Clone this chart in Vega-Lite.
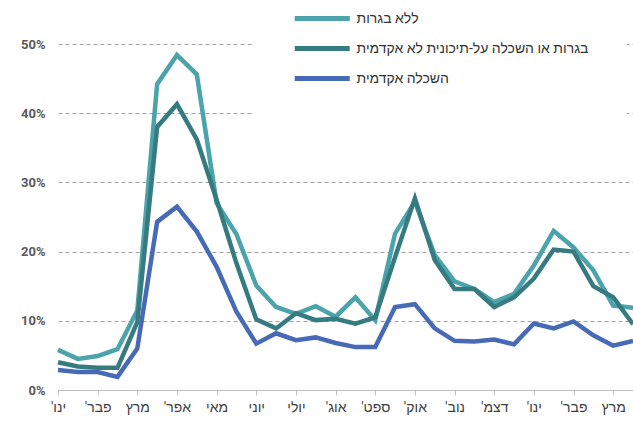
{
  "$schema": "https://vega.github.io/schema/vega-lite/v6.json",
  "width": 575,
  "height": 346,
  "autosize": {"type": "none"},
  "padding": {"left": 58, "top": 44, "right": 0, "bottom": 32},
  "background": "white",
  "config": {"view": {"stroke": null}, "font": "Roboto, 'Liberation Sans', sans-serif"},
  "data": {"values": [
    {"t":0,"series":"ללא בגרות","v":5.8},{"t":1,"series":"ללא בגרות","v":4.5},{"t":2,"series":"ללא בגרות","v":4.9},{"t":3,"series":"ללא בגרות","v":5.9},{"t":4,"series":"ללא בגרות","v":11.5},{"t":5,"series":"ללא בגרות","v":44.2},{"t":6,"series":"ללא בגרות","v":48.4},{"t":7,"series":"ללא בגרות","v":45.6},{"t":8,"series":"ללא בגרות","v":27.0},{"t":9,"series":"ללא בגרות","v":22.5},{"t":10,"series":"ללא בגרות","v":15.1},{"t":11,"series":"ללא בגרות","v":12.0},{"t":12,"series":"ללא בגרות","v":11.0},{"t":13,"series":"ללא בגרות","v":12.1},{"t":14,"series":"ללא בגרות","v":10.6},{"t":15,"series":"ללא בגרות","v":13.4},{"t":16,"series":"ללא בגרות","v":10.1},{"t":17,"series":"ללא בגרות","v":22.6},{"t":18,"series":"ללא בגרות","v":27.2},{"t":19,"series":"ללא בגרות","v":19.5},{"t":20,"series":"ללא בגרות","v":15.7},{"t":21,"series":"ללא בגרות","v":14.6},{"t":22,"series":"ללא בגרות","v":12.7},{"t":23,"series":"ללא בגרות","v":13.9},{"t":24,"series":"ללא בגרות","v":18.0},{"t":25,"series":"ללא בגרות","v":23.0},{"t":26,"series":"ללא בגרות","v":20.6},{"t":27,"series":"ללא בגרות","v":17.3},{"t":28,"series":"ללא בגרות","v":12.2},{"t":29,"series":"ללא בגרות","v":11.9},
    {"t":0,"series":"בגרות או השכלה על-תיכונית לא אקדמית","v":4.0},{"t":1,"series":"בגרות או השכלה על-תיכונית לא אקדמית","v":3.4},{"t":2,"series":"בגרות או השכלה על-תיכונית לא אקדמית","v":3.2},{"t":3,"series":"בגרות או השכלה על-תיכונית לא אקדמית","v":3.2},{"t":4,"series":"בגרות או השכלה על-תיכונית לא אקדמית","v":9.8},{"t":5,"series":"בגרות או השכלה על-תיכונית לא אקדמית","v":38.0},{"t":6,"series":"בגרות או השכלה על-תיכונית לא אקדמית","v":41.3},{"t":7,"series":"בגרות או השכלה על-תיכונית לא אקדמית","v":36.2},{"t":8,"series":"בגרות או השכלה על-תיכונית לא אקדמית","v":27.5},{"t":9,"series":"בגרות או השכלה על-תיכונית לא אקדמית","v":18.3},{"t":10,"series":"בגרות או השכלה על-תיכונית לא אקדמית","v":10.2},{"t":11,"series":"בגרות או השכלה על-תיכונית לא אקדמית","v":8.9},{"t":12,"series":"בגרות או השכלה על-תיכונית לא אקדמית","v":11.1},{"t":13,"series":"בגרות או השכלה על-תיכונית לא אקדמית","v":10.1},{"t":14,"series":"בגרות או השכלה על-תיכונית לא אקדמית","v":10.3},{"t":15,"series":"בגרות או השכלה על-תיכונית לא אקדמית","v":9.6},{"t":16,"series":"בגרות או השכלה על-תיכונית לא אקדמית","v":10.5},{"t":17,"series":"בגרות או השכלה על-תיכונית לא אקדמית","v":19.2},{"t":18,"series":"בגרות או השכלה על-תיכונית לא אקדמית","v":27.7},{"t":19,"series":"בגרות או השכלה על-תיכונית לא אקדמית","v":18.8},{"t":20,"series":"בגרות או השכלה על-תיכונית לא אקדמית","v":14.6},{"t":21,"series":"בגרות או השכלה על-תיכונית לא אקדמית","v":14.6},{"t":22,"series":"בגרות או השכלה על-תיכונית לא אקדמית","v":12.0},{"t":23,"series":"בגרות או השכלה על-תיכונית לא אקדמית","v":13.4},{"t":24,"series":"בגרות או השכלה על-תיכונית לא אקדמית","v":16.1},{"t":25,"series":"בגרות או השכלה על-תיכונית לא אקדמית","v":20.3},{"t":26,"series":"בגרות או השכלה על-תיכונית לא אקדמית","v":20.0},{"t":27,"series":"בגרות או השכלה על-תיכונית לא אקדמית","v":15.0},{"t":28,"series":"בגרות או השכלה על-תיכונית לא אקדמית","v":13.4},{"t":29,"series":"בגרות או השכלה על-תיכונית לא אקדמית","v":9.5},
    {"t":0,"series":"השכלה אקדמית","v":2.9},{"t":1,"series":"השכלה אקדמית","v":2.6},{"t":2,"series":"השכלה אקדמית","v":2.6},{"t":3,"series":"השכלה אקדמית","v":1.9},{"t":4,"series":"השכלה אקדמית","v":6.0},{"t":5,"series":"השכלה אקדמית","v":24.3},{"t":6,"series":"השכלה אקדמית","v":26.5},{"t":7,"series":"השכלה אקדמית","v":22.9},{"t":8,"series":"השכלה אקדמית","v":17.8},{"t":9,"series":"השכלה אקדמית","v":11.3},{"t":10,"series":"השכלה אקדמית","v":6.7},{"t":11,"series":"השכלה אקדמית","v":8.2},{"t":12,"series":"השכלה אקדמית","v":7.2},{"t":13,"series":"השכלה אקדמית","v":7.6},{"t":14,"series":"השכלה אקדמית","v":6.8},{"t":15,"series":"השכלה אקדמית","v":6.2},{"t":16,"series":"השכלה אקדמית","v":6.2},{"t":17,"series":"השכלה אקדמית","v":12.0},{"t":18,"series":"השכלה אקדמית","v":12.4},{"t":19,"series":"השכלה אקדמית","v":8.9},{"t":20,"series":"השכלה אקדמית","v":7.1},{"t":21,"series":"השכלה אקדמית","v":7.0},{"t":22,"series":"השכלה אקדמית","v":7.3},{"t":23,"series":"השכלה אקדמית","v":6.6},{"t":24,"series":"השכלה אקדמית","v":9.6},{"t":25,"series":"השכלה אקדמית","v":8.9},{"t":26,"series":"השכלה אקדמית","v":9.9},{"t":27,"series":"השכלה אקדמית","v":7.9},{"t":28,"series":"השכלה אקדמית","v":6.4},{"t":29,"series":"השכלה אקדמית","v":7.1}
  ]},
  "mark": {"type": "line", "strokeWidth": 4.5, "strokeJoin": "miter"},
  "encoding": {
    "x": {
      "field": "t", "type": "quantitative",
      "scale": {"domain": [0, 29], "nice": false, "zero": false},
      "axis": {
        "values": [0, 2, 4, 6, 8, 10, 12, 14, 16, 18, 20, 22, 24, 26, 28],
        "labelExpr": "[\"ינו'\u200f\",\"פבר'\u200f\",\"מרץ\",\"אפר'\u200f\",\"מאי\",\"יוני\",\"יולי\",\"אוג'\u200f\",\"ספט'\u200f\",\"אוק'\u200f\",\"נוב'\u200f\",\"דצמ'\u200f\",\"ינו'\u200f\",\"פבר'\u200f\",\"מרץ\"][datum.value/2]",
        "title": null, "grid": false,
        "domainColor": "#bfbfbf", "tickColor": "#bfbfbf", "tickSize": 5,
        "labelFontSize": 14, "labelColor": "#404040", "labelPadding": 5,
        "labelFlush": false, "labelOverlap": false
      }
    },
    "y": {
      "field": "v", "type": "quantitative",
      "scale": {"domain": [0, 50], "nice": false},
      "axis": {
        "values": [0, 10, 20, 30, 40, 50],
        "labelExpr": "datum.value + '%'",
        "title": null, "domain": false, "ticks": false,
        "gridDash": [4, 3], "gridColor": "#a0a0a0",
        "labelFontSize": 13, "labelColor": "#595959", "labelPadding": 13, "labelFontWeight": "bold"
      }
    },
    "color": {
      "field": "series", "type": "nominal",
      "scale": {
        "domain": ["ללא בגרות", "בגרות או השכלה על-תיכונית לא אקדמית", "השכלה אקדמית"],
        "range": ["#4ba3ac", "#367b80", "#466ab6"]
      },
      "legend": {
        "title": null, "orient": "none", "legendX": 196, "legendY": -80,
        "padding": 38, "fillColor": "white",
        "symbolType": "M-1,0H3", "symbolSize": 756, "symbolStrokeWidth": 5, "symbolFillColor": "transparent",
        "labelFontSize": 14, "labelColor": "#333333", "labelOffset": 31.5,
        "rowPadding": 3, "labelLimit": 400
      }
    }
  }
}
